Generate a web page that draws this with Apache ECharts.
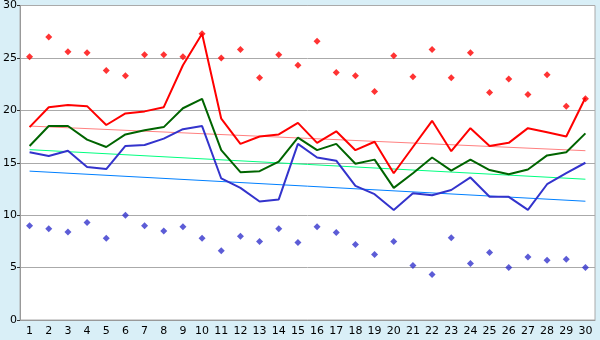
<!DOCTYPE html>
<html>
<head>
<meta charset="utf-8">
<script src="https://cdn.jsdelivr.net/npm/echarts@6/dist/echarts.min.js"></script>
<style>html,body{margin:0;padding:0;background:#D9EFF7;}#c{width:600px;height:340px;}</style>
</head>
<body>
<div id="c"></div>
<script>
const categories = ['1','2','3','4','5','6','7','8','9','10','11','12','13','14','15','16','17','18','19','20','21','22','23','24','25','26','27','28','29','30'];
const redLine = [18.4,20.3,20.5,20.4,18.6,19.7,19.9,20.3,24.3,27.3,19.2,16.8,17.5,17.7,18.8,16.9,18.0,16.2,17.0,14.0,16.5,19.0,16.1,18.3,16.6,16.9,18.3,17.9,17.5,21.2];
const greenLine = [16.6,18.5,18.5,17.2,16.5,17.7,18.1,18.4,20.2,21.1,16.2,14.1,14.2,15.1,17.4,16.2,16.8,14.9,15.3,12.6,14.0,15.5,14.25,15.3,14.3,13.9,14.35,15.7,16.0,17.8];
const blueLine = [16.0,15.65,16.15,14.6,14.4,16.6,16.7,17.3,18.2,18.5,13.5,12.6,11.3,11.5,16.8,15.5,15.2,12.8,12.0,10.5,12.1,11.9,12.4,13.6,11.75,11.75,10.5,12.95,14.0,15.0];
const maxPoints = [25.1,27.0,25.6,25.5,23.8,23.3,25.3,25.3,25.1,27.3,25.0,25.8,23.1,25.3,24.3,26.6,23.6,23.3,21.8,25.2,23.2,25.8,23.1,25.5,21.7,23.0,21.5,23.4,20.4,21.1];
const minPoints = [9.0,8.7,8.4,9.3,7.8,10.0,9.0,8.5,8.9,7.8,6.6,8.0,7.5,8.7,7.4,8.9,8.35,7.2,6.25,7.5,5.2,4.35,7.85,5.4,6.45,5.0,6.0,5.7,5.8,5.0];
const trendRed = [18.5, 16.15];
const trendGreen = [16.25, 13.43];
const trendBlue = [14.2, 11.33];
const yTicks = [0,5,10,15,20,25,30];

const last = categories.length - 1;
const chart = echarts.init(document.getElementById('c'), null, {renderer:'canvas'});
const trend = (vals, color) => ({
  type:'line', data:[[0, vals[0]],[last, vals[1]]], symbol:'none', silent:true,
  lineStyle:{color, width:1}, z:2
});
chart.setOption({
  animation:false,
  backgroundColor:'#D9EFF7',
  grid:{left:20, right:5, top:5, bottom:20, show:true, backgroundColor:'#fff', borderColor:'#aaa', borderWidth:1},
  xAxis:{
    type:'category', data:categories, boundaryGap:true,
    axisLine:{lineStyle:{color:'#999'}},
    axisTick:{alignWithLabel:true, length:5, lineStyle:{color:'#333'}},
    axisLabel:{color:'#000', fontFamily:'DejaVu Sans', fontSize:11, margin:6, interval:0}
  },
  yAxis:{
    type:'value', min:yTicks[0], max:yTicks[yTicks.length-1], interval:5,
    axisLine:{show:true, lineStyle:{color:'#999'}},
    axisTick:{show:true, length:3, lineStyle:{color:'#333'}},
    axisLabel:{color:'#000', fontFamily:'DejaVu Sans', fontSize:11, margin:3},
    splitLine:{lineStyle:{color:'#aaa', width:1}}
  },
  series:[
    trend(trendRed, '#FF8080'),
    trend(trendGreen, '#00FF80'),
    trend(trendBlue, '#0080FF'),
    {type:'line', data:redLine, symbol:'none', lineStyle:{color:'#FF0000', width:2}, z:3},
    {type:'line', data:greenLine, symbol:'none', lineStyle:{color:'#006400', width:2}, z:3},
    {type:'line', data:blueLine, symbol:'none', lineStyle:{color:'#3333CC', width:2}, z:3},
    {type:'scatter', data:maxPoints, symbol:'diamond', symbolSize:7, itemStyle:{color:'#FF0000'}, z:4},
    {type:'scatter', data:minPoints, symbol:'diamond', symbolSize:7, itemStyle:{color:'#3333CC'}, z:4}
  ]
});
</script>
</body>
</html>
